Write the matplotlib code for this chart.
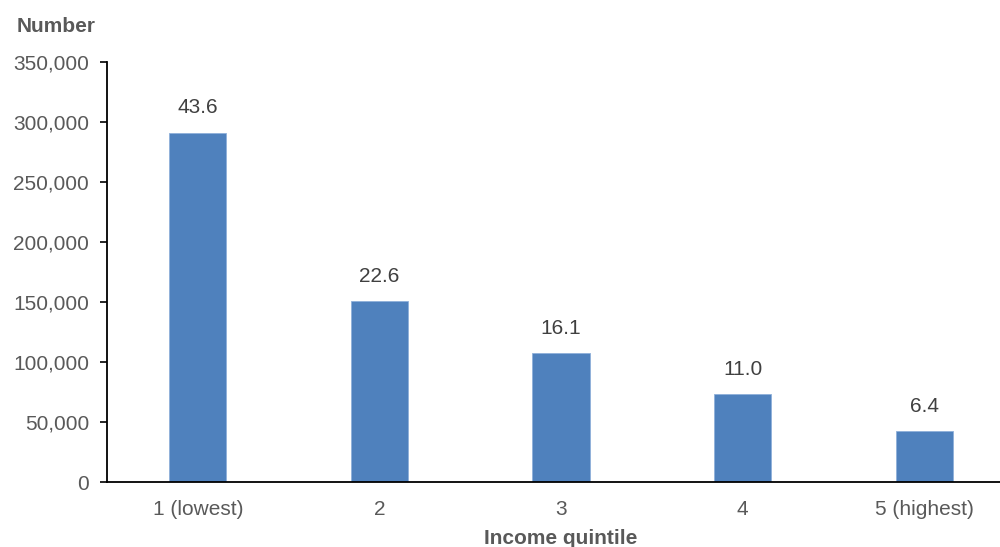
import matplotlib

matplotlib.use("Agg")
import matplotlib.pyplot as plt
from matplotlib.ticker import FuncFormatter

quintiles = ["1 (lowest)", "2", "3", "4", "5 (highest)"]
counts = [291100, 150800, 107200, 73300, 42500]
shares = [43.6, 22.6, 16.1, 11.0, 6.4]

BAR = "#4f81bd"
GREY = "#595959"
DARK = "#404040"

plt.rcParams["font.family"] = ["Liberation Sans", "DejaVu Sans"]

fig = plt.figure(figsize=(10.0, 5.47), dpi=100)
ax = fig.add_axes([0.107, 0.1188, 0.908, 0.768])

x = range(len(quintiles))
bars = ax.bar(x, counts, width=0.314, color=BAR, edgecolor="#8fb0da", linewidth=0.6)

for rect, pct in zip(bars, shares):
    ax.annotate(f"{pct:.1f}", xy=(rect.get_x() + rect.get_width() / 2, rect.get_height()),
                xytext=(0, 11), textcoords="offset points",
                ha="center", va="bottom", fontsize=15, color=DARK)

ax.set_xlim(-0.5, 4.5)
ax.set_ylim(0, 350000)
ax.set_yticks(range(0, 350001, 50000))
ax.yaxis.set_major_formatter(FuncFormatter(lambda v, _: f"{int(v):,}"))
ax.set_xticks(list(x))
ax.set_xticklabels(quintiles)

ax.tick_params(axis="y", direction="out", length=5, width=1.2, pad=8,
               labelsize=15, labelcolor=GREY, color="black")
ax.tick_params(axis="x", length=0, pad=13, labelsize=15, labelcolor=GREY)

for side in ("top", "right"):
    ax.spines[side].set_visible(False)
for side in ("left", "bottom"):
    ax.spines[side].set_linewidth(1.3)
    ax.spines[side].set_color("black")

fig.text(0.017, 1 - 27 / 547, "Number", fontsize=15, fontweight="bold",
         color=GREY, ha="left", va="center")
fig.text(0.561, 1 - 539 / 547, "Income quintile", fontsize=15, fontweight="bold",
         color=GREY, ha="center", va="center")

fig.savefig("out.png", dpi=100)
